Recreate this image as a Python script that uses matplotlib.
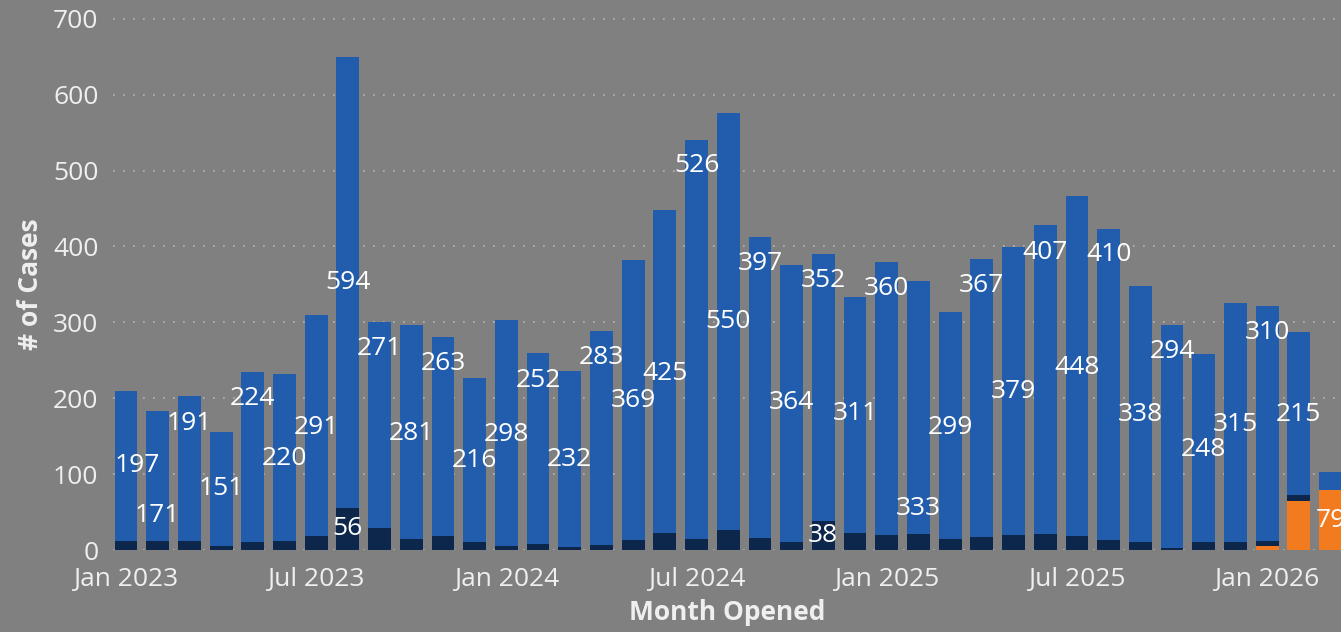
import numpy as np
import pandas as pd
import matplotlib
matplotlib.use("Agg")
import matplotlib.pyplot as plt

# data, Jan 2023 .. Mar 2026
thang = pd.date_range("2023-01-01", "2026-03-01", freq="MS")
orange = [0] * 36 + [5, 64, 79]
navy = [12, 12, 12, 5, 10, 12, 18, 56, 29, 15, 18, 11, 5, 8, 4, 6, 13, 23, 14, 26,
        16, 11, 38, 23, 20, 21, 14, 17, 20, 21, 18, 13, 10, 2, 10, 10, 7, 8, 0]
blue = [197, 171, 191, 151, 224, 220, 291, 594, 271, 281, 263, 216, 298, 252, 232, 283,
        369, 425, 526, 550, 397, 364, 352, 311, 360, 333, 299, 367, 379, 407, 448, 410,
        338, 294, 248, 315, 310, 215, 24]

# where the power bi labels of the blue series sit (label layout, not data)
blue_label_y = [111, 45, 167, 81, 200, 121, 162, 352, 265, 154, 246, 118, 152, 224, 119,
                253, 197, 233, 506, 301, 378, 194, 355, 180, 345, 55, 162, 349, 209, 392,
                241, 389, 178, 261, 133, 166, 286, 179, None]
blue_label_dx = [0.35] + [0] * 38

tick_lbl = ["Jan 2023", "Jul 2023", "Jan 2024", "Jul 2024", "Jan 2025", "Jul 2025", "Jan 2026"]

C_BG = "#808080"
C_BLUE = "#215DAC"
C_NAVY = "#0C274B"
C_ORANGE = "#F27A1F"
C_TXT = "#EFEFEF"
FONT = "Open Sans"

plt.rcParams["font.family"] = [FONT, "DejaVu Sans"]

fig = plt.figure(figsize=(13.41, 6.32), dpi=100)
fig.patch.set_facecolor(C_BG)
ax = fig.add_axes([113 / 1341, 82 / 632, 1 - 113 / 1341, 532 / 632])
ax.set_facecolor(C_BG)

x = np.arange(len(thang))
o = np.array(orange)
nv = np.array(navy)
bl = np.array(blue)
w = 0.72
ax.bar(x, o, width=w, color=C_ORANGE, zorder=3)
ax.bar(x, nv, width=w, bottom=o, color=C_NAVY, zorder=3)
ax.bar(x, bl, width=w, bottom=o + nv, color=C_BLUE, zorder=3)

lab_kw = dict(color="white", fontsize=19, ha="center", va="center", zorder=5)
for i in range(len(x)):
    if blue_label_y[i] is not None:
        ax.text(x[i] + blue_label_dx[i], blue_label_y[i], str(blue[i]), **lab_kw)
    if navy[i] >= 30:
        ax.text(x[i], o[i] + nv[i] / 2, str(navy[i]), **lab_kw)
    if orange[i] >= 70:
        ax.text(x[i], o[i] / 2, str(orange[i]), **lab_kw)

ax.set_ylim(0, 701)
ax.set_xlim(-0.41, 38.33)
ax.set_yticks(range(0, 701, 100))
ax.set_xticks(np.arange(0, 37, 6))
ax.set_xticklabels(tick_lbl)
ax.yaxis.grid(True, color="#b4b4b4", linestyle=(0, (1, 5)), linewidth=1.2, zorder=0)
ax.set_axisbelow(True)
for s in ax.spines.values():
    s.set_visible(False)
ax.tick_params(axis="both", length=0, labelsize=19, colors=C_TXT)
ax.tick_params(axis="y", pad=10.5)
ax.tick_params(axis="x", pad=12)

ax.set_ylabel("# of Cases", fontsize=19, fontweight="bold", color=C_TXT, va="center")
ax.set_xlabel("Month Opened", fontsize=19, fontweight="bold", color=C_TXT, va="center")
ax.yaxis.set_label_coords(-83 / 1228, 0.5)
ax.xaxis.set_label_coords(0.5, -62 / 532)

fig.savefig("out.png", dpi=100, facecolor=C_BG)
